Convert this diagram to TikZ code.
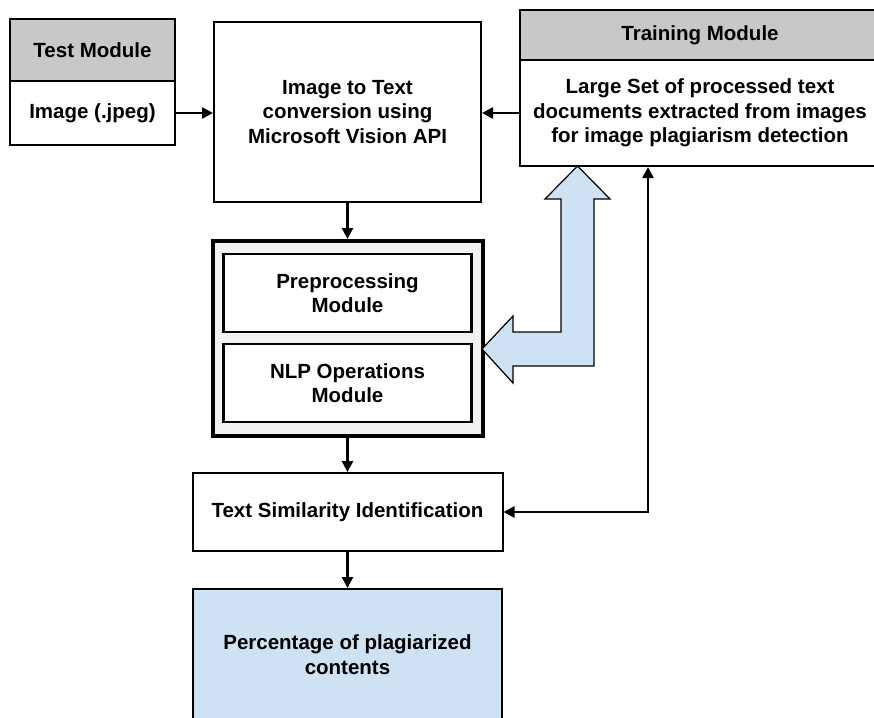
\documentclass[tikz,border=0pt]{standalone}
\usepackage{fontspec}
\setmainfont{Liberation Sans}
\usetikzlibrary{arrows.meta}
\definecolor{hdr}{HTML}{C8C8C8}
\definecolor{lblue}{HTML}{CFE2F3}
\definecolor{lgray}{HTML}{F2F2F2}
\begin{document}
\begin{tikzpicture}[x=1pt,y=-1pt,
 box/.style={draw, line width=2pt, fill=white, inner sep=0pt, align=center, font=\bfseries\fontsize{20.5}{24.5}\selectfont},
 tip/.style={Triangle[length=11pt,width=11pt]},
 arr/.style={line width=2.5pt, -{Triangle[length=11pt,width=11pt]}},
 darr/.style={line width=2.5pt, {Triangle[length=11pt,width=11pt]}-{Triangle[length=11pt,width=11pt]}}]
\useasboundingbox (0,0) rectangle (874,717);
\node[box, fill=hdr, minimum width=165pt, minimum height=62pt] (testh) at (92.5,50) {Test Module};
\node[box, minimum width=165pt, minimum height=64pt] (testb) at (92.5,113) {Image (.jpeg)};
\node[box, minimum width=267pt, minimum height=180pt] (itt) at (347.5,112) {Image to Text\\conversion using\\Microsoft Vision API};
\node[box, fill=hdr, minimum width=360pt, minimum height=51pt] (trh) at (700,35.5) {Training Module};
\node[box, minimum width=360pt, minimum height=106pt] (trb) at (700,113) {Large Set of processed text\\documents extracted from images\\for image plagiarism detection};
\node[draw, line width=4pt, fill=lgray, minimum width=270pt, minimum height=195pt] (outer) at (347.5,338.5) {};
\node[box, line width=2.5pt, minimum width=248pt, minimum height=78pt] (pre) at (347.5,293) {Preprocessing\\Module};
\node[box, line width=2.5pt, minimum width=248pt, minimum height=78pt] (nlp) at (347.5,383) {NLP Operations\\Module};
\node[box, minimum width=310pt, minimum height=78pt] (tsi) at (347.5,512) {Text Similarity Identification};
\node[box, fill=lblue, minimum width=309pt, minimum height=131pt] (pct) at (347.5,654.5) {Percentage of plagiarized\\contents};
\coordinate (bend) at (648,512);
\draw[arr] (testb.east) -- (itt.west |- testb.east);
\draw[arr] (trb.west) -- (itt.east |- trb.west);
\draw[arr] (itt.south) -- (itt.south |- outer.north);
\draw[arr] (outer.south) -- (outer.south |- tsi.north);
\draw[arr] (tsi.south) -- (tsi.south |- pct.north);
\draw[darr] (bend |- trb.south) -- (bend) -- (tsi.east);
\draw[line width=1.2pt, fill=lblue, line join=miter]
  (482,349) -- (513,316) -- (513,332) -- (561,332) -- (561,199) -- (545,199)
  -- (577.5,166) -- (610,199) -- (594,199) -- (594,366) -- (513,366) -- (513,383) -- cycle;
\end{tikzpicture}
\end{document}
